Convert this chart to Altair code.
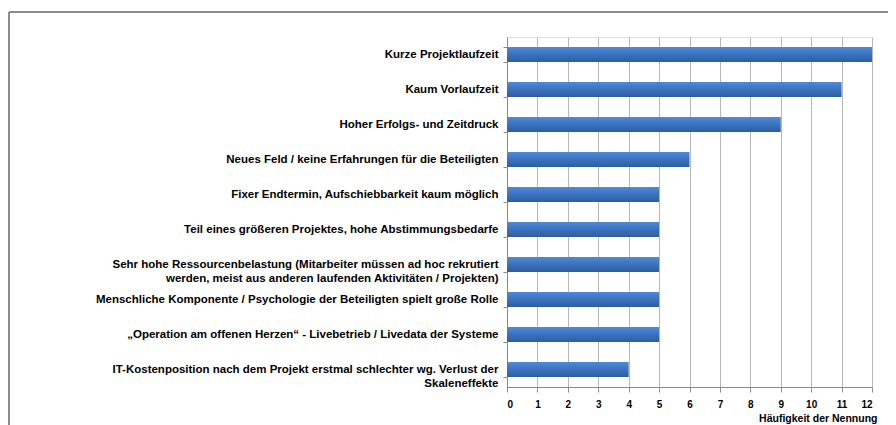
import altair as alt
import pandas as pd

categories = [
    "Kurze Projektlaufzeit",
    "Kaum Vorlaufzeit",
    "Hoher Erfolgs- und Zeitdruck",
    "Neues Feld / keine Erfahrungen für die Beteiligten",
    "Fixer Endtermin, Aufschiebbarkeit kaum möglich",
    "Teil eines größeren Projektes, hohe Abstimmungsbedarfe",
    "Sehr hohe Ressourcenbelastung (Mitarbeiter müssen ad hoc rekrutiert|werden, meist aus anderen laufenden Aktivitäten / Projekten)",
    "Menschliche Komponente / Psychologie der Beteiligten spielt große Rolle",
    "„Operation am offenen Herzen“ - Livebetrieb / Livedata der Systeme",
    "IT-Kostenposition nach dem Projekt erstmal schlechter wg. Verlust der|Skaleneffekte",
]
values = [12, 11, 9, 6, 5, 5, 5, 5, 5, 4]
x_ticks = list(range(0, 13))

df = pd.DataFrame({"cat": categories, "n": values})

FONT = "Liberation Sans"

bars = alt.Chart(df).mark_bar(
    color=alt.Gradient(
        gradient="linear",
        stops=[
            alt.GradientStop(color="#5289d4", offset=0),
            alt.GradientStop(color="#3b72c0", offset=0.5),
            alt.GradientStop(color="#2e5d9e", offset=1),
        ],
        x1=0, x2=0, y1=0, y2=1,
    )
).encode(
    x=alt.X(
        "n:Q",
        scale=alt.Scale(domain=[0, 12], nice=False),
        axis=alt.Axis(
            values=x_ticks,
            title="Häufigkeit der Nennung",
            titleAnchor="end",
            titleAlign="right",
            titleX=370,
            titleFont=FONT,
            titleFontSize=10.5,
            titleFontWeight="bold",
            titlePadding=4,
            labelFont=FONT,
            labelFontSize=10,
            labelFontWeight="bold",
            labelPadding=7,
            labelColor="#000000",
            titleColor="#000000",
            grid=True,
            gridColor="#b8b8b8",
            domainColor="#8a8a8a",
            tickColor="#8a8a8a",
            tickSize=5,
            format="d",
        ),
    ),
    y=alt.Y(
        "cat:N",
        sort=categories,
        scale=alt.Scale(paddingInner=0.57, paddingOuter=0.285),
        axis=alt.Axis(
            title=None,
            tickBand="extent",
            labelExpr="split(datum.label, '|')",
            labelFont=FONT,
            labelFontSize=11.5,
            labelFontWeight="bold",
            labelColor="#000000",
            labelLineHeight=14,
            labelPadding=5,
            labelLimit=0,
            tickSize=4,
            tickColor="#8a8a8a",
            domainColor="#8a8a8a",
            grid=False,
        ),
    ),
)

frame_left = alt.Chart(df).mark_rule(color="#8c8c8c", strokeWidth=1).encode(
    x=alt.value(-498), y=alt.value(-25), y2=alt.value(420)
)
frame_top = alt.Chart(df).mark_rule(color="#8c8c8c", strokeWidth=1).encode(
    x=alt.value(-498), x2=alt.value(420), y=alt.value(-25)
)

chart = alt.layer(bars, frame_left, frame_top).properties(
    width=365,
    height=350,
    autosize=alt.AutoSizeParams(type="none"),
    padding={"left": 499, "top": 29, "right": 16, "bottom": 45},
).configure_view(stroke=None).configure(background="white")

chart.save("out.html", embed_options={"renderer": "svg", "actions": False})
